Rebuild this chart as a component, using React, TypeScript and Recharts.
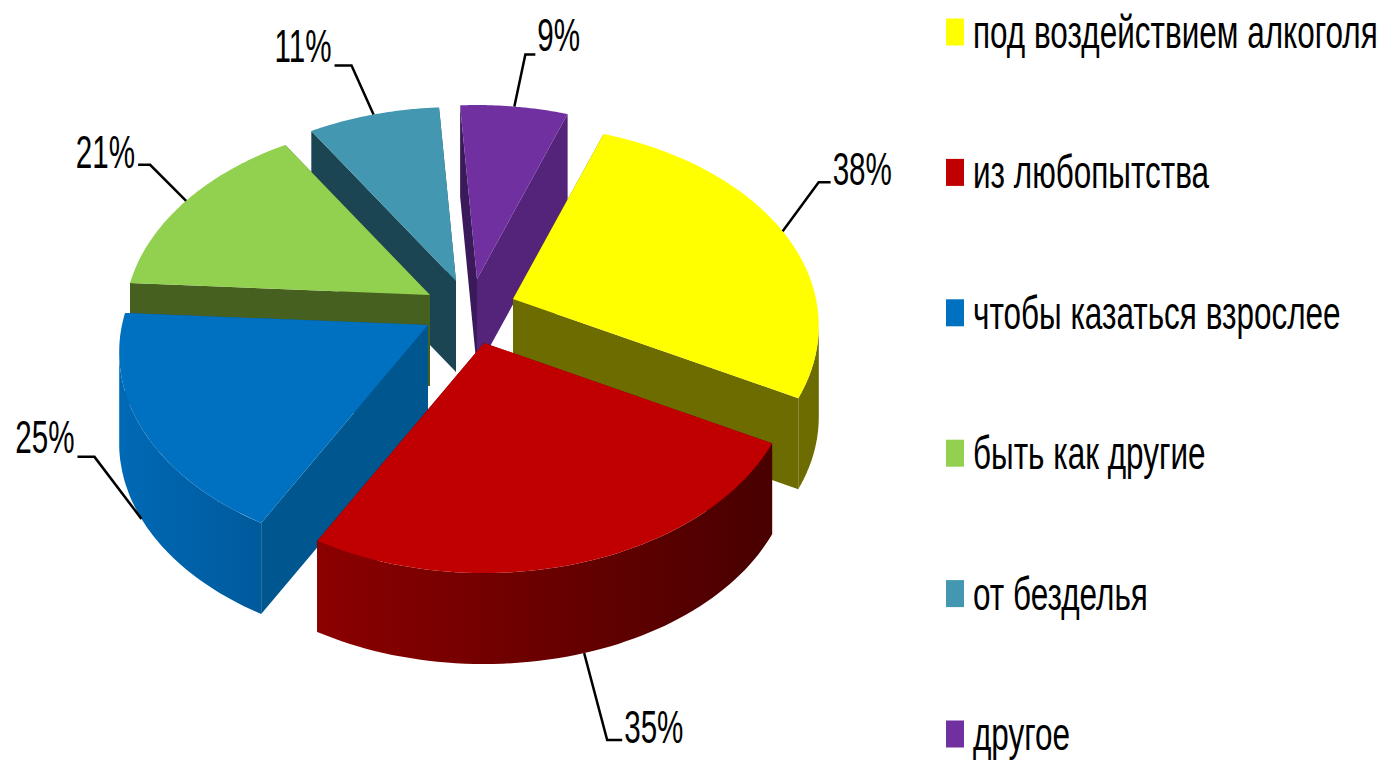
import React from "react";
import { PieChart, Pie, Legend } from "recharts";

// ---- data (legend order)
const categories = [
  "под воздействием алкоголя",
  "из любопытства",
  "чтобы казаться взрослее",
  "быть как другие",
  "от безделья",
  "другое",
];
const values = [38, 35, 25, 21, 11, 9];
const percentLabels = ["38%", "35%", "25%", "21%", "11%", "9%"];

// ---- styles
const topColors = ["#ffff00", "#c00000", "#0070c0", "#92d050", "#4397b0", "#7030a0"];
const wallFrom = ["#6c6c00", "#8c0000", "#0069b5", "#46601f", "#1b4552", "#4a2070"];
const wallTo = ["#6c6c00", "#480000", "#005a9c", "#46601f", "#1b4552", "#4a2070"];
const cutColors = ["#6c6c00", "#4a0000", "#00568f", "#46601f", "#1b4552", "#54247a"];
const leftCutColors = ["#6c6c00", "#700000", "#00568f", "#46601f", "#1b4552", "#3b1a5c"];

// ---- layout: explode offset of each slice from the pie centre, and the leader line geometry
const CX = 470;
const CY = 310;
const explodeX = [43, 14, -42, -40, -14, 7];
const explodeY = [-11, 33, 15, -15, -29, -31];
const radiusScale = [1, 1.01, 1.01, 1, 1, 1];
const elbowX = [36, 23, -47, -36, -22, 11];
const elbowY = [-49, 87, -62, -36, -49, -52];
const tail = [12, 15, -17, -12, -17, 10];
const textDy = [3, 3, -4, 3, -3, -4];
const anchorOnWall = [false, true, true, false, false, false];

// ---- 3D projection
const TILT = 0.651;
const PERSPECTIVE = 0.134;
const DEPTH = 91;
const TEXT_SCALE = 0.63;
const LEGEND_SCALE = 0.67;
const FONT = "'Liberation Sans', Arial, sans-serif";
// the wall of the pie is seen only between the two horizontal extremes of the projected rim
const WALL_FROM = (Math.acos(-PERSPECTIVE) * 180) / Math.PI;
const WALL_TO = 360 - WALL_FROM;

// paint order: the ring runs counter-clockwise so back slices come first
const back = [5, 4, 3];
const front = [0, 2, 1];
const ring = [0, 5, 4, 3, 2, 1];
const pieData = ring.map((i) => ({ name: categories[i], value: values[i], idx: i }));

type Pt = { x: number; y: number };

const project = (deg: number, r: number): Pt => {
  const t = (deg * Math.PI) / 180;
  const u = Math.sin(t);
  const v = -Math.cos(t);
  const s = 1 / (1 - PERSPECTIVE * v);
  return { x: r * u * s, y: r * TILT * v * s };
};

const toPath = (pts: Pt[]) =>
  pts.map((p, i) => `${i ? "L" : "M"}${p.x.toFixed(1)},${p.y.toFixed(1)}`).join(" ") + " Z";

const down = (p: Pt): Pt => ({ x: p.x, y: p.y + DEPTH });

const sampleArc = (ax: number, ay: number, r: number, from: number, to: number): Pt[] => {
  const pts: Pt[] = [];
  const steps = 60;
  for (let k = 0; k <= steps; k++) {
    const p = project(from + ((to - from) * k) / steps, r);
    pts.push({ x: ax + p.x, y: ay + p.y });
  }
  return pts;
};

const makeShape = (layer: number[]) => (props: any) => {
  const idx = props.idx ?? props.payload?.idx;
  if (!layer.includes(idx)) return <g />;
  const ax = props.cx + explodeX[idx];
  const ay = props.cy + explodeY[idx];
  const r = props.outerRadius * radiusScale[idx];
  let th1 = 90 - props.endAngle;
  let th2 = 90 - props.startAngle;
  while (th1 < 0) {
    th1 += 360;
    th2 += 360;
  }
  const arc = sampleArc(ax, ay, r, th1, th2);
  const wallStart = Math.max(th1, WALL_FROM);
  const wallEnd = Math.min(th2, WALL_TO);
  const wallArc = wallEnd > wallStart ? sampleArc(ax, ay, r, wallStart, wallEnd) : [];
  const apex = { x: ax, y: ay };
  const first = arc[0];
  const last = arc[arc.length - 1];
  const xs = arc.map((p) => p.x);
  const gid = `wall-${idx}`;
  return (
    <g>
      <defs>
        <linearGradient
          id={gid}
          gradientUnits="userSpaceOnUse"
          x1={Math.min(...xs)}
          x2={Math.max(...xs)}
          y1={0}
          y2={0}
        >
          <stop offset="0" stopColor={wallFrom[idx]} />
          <stop offset="1" stopColor={wallTo[idx]} />
        </linearGradient>
      </defs>
      <path d={toPath([apex, first, down(first), down(apex)])} fill={leftCutColors[idx]} />
      <path d={toPath([apex, last, down(last), down(apex)])} fill={cutColors[idx]} />
      {wallArc.length > 0 && (
        <path d={toPath([...wallArc, ...wallArc.slice().reverse().map(down)])} fill={`url(#${gid})`} />
      )}
      <path d={toPath([apex, ...arc])} fill={topColors[idx]} />
    </g>
  );
};

const makeLabel = (layer: number[]) => (props: any) => {
  const idx = props.idx ?? props.payload?.idx;
  if (!layer.includes(idx)) return <g />;
  const p = project(90 - props.midAngle, props.outerRadius * radiusScale[idx]);
  const x0 = props.cx + explodeX[idx] + p.x;
  const y0 = props.cy + explodeY[idx] + p.y + (anchorOnWall[idx] ? DEPTH : 0);
  const x1 = x0 + elbowX[idx];
  const y1 = y0 + elbowY[idx];
  const x2 = x1 + tail[idx];
  const right = tail[idx] > 0;
  return (
    <g>
      <polyline points={`${x0},${y0} ${x1},${y1} ${x2},${y1}`} fill="none" stroke="#000" strokeWidth={2.5} />
      <text
        transform={`translate(${x2 + (right ? 2 : -3)},${y1 + textDy[idx]}) scale(${TEXT_SCALE},1)`}
        textAnchor={right ? "start" : "end"}
        fontFamily={FONT}
        fontSize={47}
        fill="#000"
      >
        {percentLabels[idx]}
      </text>
    </g>
  );
};

const LegendContent = () => (
  <svg width={1383} height={760} style={{ display: "block" }}>
    {categories.map((c, i) => {
      const yc = 32 + i * 140.4;
      return (
        <g key={c}>
          <rect x={946} y={yc - 13.5} width={18} height={27} fill={topColors[i]} />
          <text
            transform={`translate(973,${yc + 16}) scale(${LEGEND_SCALE},1)`}
            fontFamily={FONT}
            fontSize={47}
            fill="#000"
          >
            {c}
          </text>
        </g>
      );
    })}
  </svg>
);

const pieProps = {
  data: pieData,
  dataKey: "value",
  nameKey: "name",
  cx: CX,
  cy: CY,
  innerRadius: 0,
  outerRadius: 303,
  startAngle: -28.1,
  endAngle: 331.9,
  stroke: "none",
  labelLine: false,
  isAnimationActive: false,
} as const;

export default function App() {
  return (
    <div style={{ position: "absolute", left: 0, top: 0, width: 1383, height: 760, background: "#fff", overflow: "hidden" }}>
      <PieChart width={1383} height={760} margin={{ top: 0, right: 0, bottom: 0, left: 0 }}>
        <Pie {...pieProps} shape={makeShape(back)} label={makeLabel(back)} />
        <Pie {...pieProps} shape={makeShape(front)} label={makeLabel(front)} />
        <Legend
          content={<LegendContent />}
          wrapperStyle={{ position: "absolute", left: 0, top: 0, width: 1383, height: 760, pointerEvents: "none" }}
        />
      </PieChart>
    </div>
  );
}
